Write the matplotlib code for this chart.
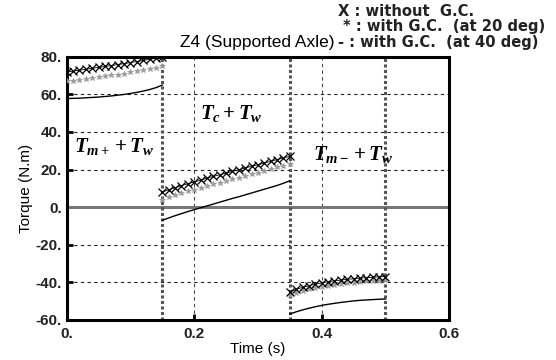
import matplotlib.pyplot as plt

# segment 1: 0 .. 0.15 s
t1 = [0.00, 0.01, 0.02, 0.03, 0.04, 0.05, 0.06, 0.07,
      0.08, 0.09, 0.10, 0.11, 0.12, 0.13, 0.14, 0.15]
x1 = [72.0, 72.4, 72.9, 73.4, 73.9, 74.4, 74.9, 75.4,
      75.9, 76.4, 77.0, 77.5, 78.1, 78.7, 79.3, 80.0]
s1 = [67.0, 67.4, 67.8, 68.2, 68.7, 69.1, 69.6, 70.1,
      70.6, 71.1, 71.7, 72.3, 72.9, 73.5, 74.2, 75.0]
l1 = [57.8, 57.9, 58.0, 58.2, 58.4, 58.6, 58.9, 59.2,
      59.6, 60.0, 60.5, 61.1, 61.8, 62.6, 63.6, 65.0]

# segment 2: 0.15 .. 0.35 s
t2 = [0.15, 0.16, 0.17, 0.18, 0.19, 0.20, 0.21, 0.22, 0.23, 0.24, 0.25,
      0.26, 0.27, 0.28, 0.29, 0.30, 0.31, 0.32, 0.33, 0.34, 0.35]
x2 = [8.0, 9.2, 10.3, 11.4, 12.4, 13.4, 14.4, 15.4, 16.3, 17.2, 18.1,
      19.0, 19.9, 20.8, 21.7, 22.6, 23.5, 24.4, 25.3, 26.2, 27.0]
s2 = [4.0, 5.1, 6.2, 7.3, 8.3, 9.3, 10.3, 11.2, 12.1, 13.0, 13.9,
      14.8, 15.7, 16.6, 17.5, 18.4, 19.3, 20.2, 21.1, 22.0, 23.0]
l2 = [-7.0, -5.8, -4.6, -3.5, -2.4, -1.4, -0.4, 0.6, 1.6, 2.6, 3.6,
      4.6, 5.5, 6.5, 7.5, 8.5, 9.5, 10.5, 11.5, 12.7, 14.0]

# segment 3: 0.35 .. 0.5 s
t3 = [0.35, 0.36, 0.37, 0.38, 0.39, 0.40, 0.41, 0.42,
      0.43, 0.44, 0.45, 0.46, 0.47, 0.48, 0.49, 0.50]
x3 = [-45.0, -43.8, -42.8, -41.9, -41.1, -40.4, -39.8, -39.3,
      -38.9, -38.5, -38.2, -37.9, -37.6, -37.4, -37.2, -37.0]
s3 = [-47.0, -45.8, -44.8, -43.9, -43.1, -42.4, -41.8, -41.3,
      -40.9, -40.5, -40.2, -39.9, -39.6, -39.4, -39.2, -39.0]
l3 = [-57.0, -55.8, -54.8, -53.9, -53.1, -52.4, -51.8, -51.3,
      -50.8, -50.4, -50.0, -49.7, -49.5, -49.3, -49.1, -49.0]

switch_times = [0.15, 0.35, 0.5]
xticks = [0.0, 0.2, 0.4, 0.6]
xtick_labels = ['0.', '0.2', '0.4', '0.6']
yticks = [-60, -40, -20, 0, 20, 40, 60, 80]
ytick_labels = ['-60.', '-40.', '-20.', '0.', '20.', '40.', '60.', '80.']

plt.rcParams['font.family'] = ['Liberation Sans', 'DejaVu Sans']
plt.rcParams['mathtext.fontset'] = 'custom'
plt.rcParams['mathtext.it'] = 'Liberation Serif:italic:bold'
plt.rcParams['mathtext.rm'] = 'Liberation Serif:bold'

fig = plt.figure(figsize=(5.56, 3.6), dpi=100)
ax = fig.add_axes([0.12, 0.112, 0.688, 0.730])

# grid
for gx in [0.2, 0.4]:
    ax.axvline(gx, color='#444444', lw=0.8, ls=(0, (3, 3)), zorder=1)
for gy in [-40, -20, 20, 40, 60]:
    ax.axhline(gy, color='#222222', lw=0.8, ls=(0, (3, 3)), zorder=1)

# zero line and switching instants
ax.axhline(0, color='#777777', lw=2.2, zorder=2)
for ts in switch_times:
    ax.axvline(ts, color='#555555', lw=2.2, ls=(0, (1, 0.8)), zorder=2)

for t, xs, ss, ls in [(t1, x1, s1, l1), (t2, x2, s2, l2), (t3, x3, s3, l3)]:
    ax.plot(t, xs, color='black', lw=0.6, marker='x', ms=6, mew=0.9, zorder=4)
    ax.plot(t, ss, color='#999999', lw=0, marker='*', ms=4, mew=0.5, zorder=3)
    ax.plot(t, ls, color='black', lw=1.0, zorder=4)

ax.set_xlim(0, 0.6)
ax.set_ylim(-60, 80)
ax.set_xticks(xticks)
ax.set_xticklabels(xtick_labels)
ax.set_yticks(yticks)
ax.set_yticklabels(ytick_labels)
ax.tick_params(direction='in', length=4, width=2, labelsize=11)
ax.tick_params(axis='x', pad=5)
for lab in ax.get_xticklabels() + ax.get_yticklabels():
    lab.set_fontweight('bold')
    lab.set_color('#222222')
for sp in ax.spines.values():
    sp.set_linewidth(2.2)

ax.set_xlabel('Time (s)', fontsize=11, labelpad=1)
ax.set_ylabel('Torque (N.m)', fontsize=11, labelpad=2)

# region labels
ax.text(0.075, 32, r'$T_{m+}+T_{w}$', fontsize=15, ha='center', va='center')
ax.text(0.258, 50, r'$T_{c}+T_{w}$', fontsize=15, ha='center', va='center')
ax.text(0.45, 28, r'$T_{m-}+T_{w}$', fontsize=15, ha='center', va='center')

# title and legend text
fig.text(180 / 556, 1 - 43 / 360, 'Z4 (Supported Axle)', fontsize=12.5,
         ha='left', va='center')
legend_kw = dict(family='DejaVu Sans', fontsize=10.6, fontweight='bold',
                 ha='left', va='center', color='#222222')
fig.text(338 / 556, 1 - 12 / 360, 'X : without  G.C.', **legend_kw)
fig.text(343 / 556, 1 - 27 / 360, '* : with G.C.  (at 20 deg)', **legend_kw)
fig.text(338 / 556, 1 - 43 / 360, '- : with G.C.  (at 40 deg)', **legend_kw)

fig.savefig('out.png', dpi=100)
